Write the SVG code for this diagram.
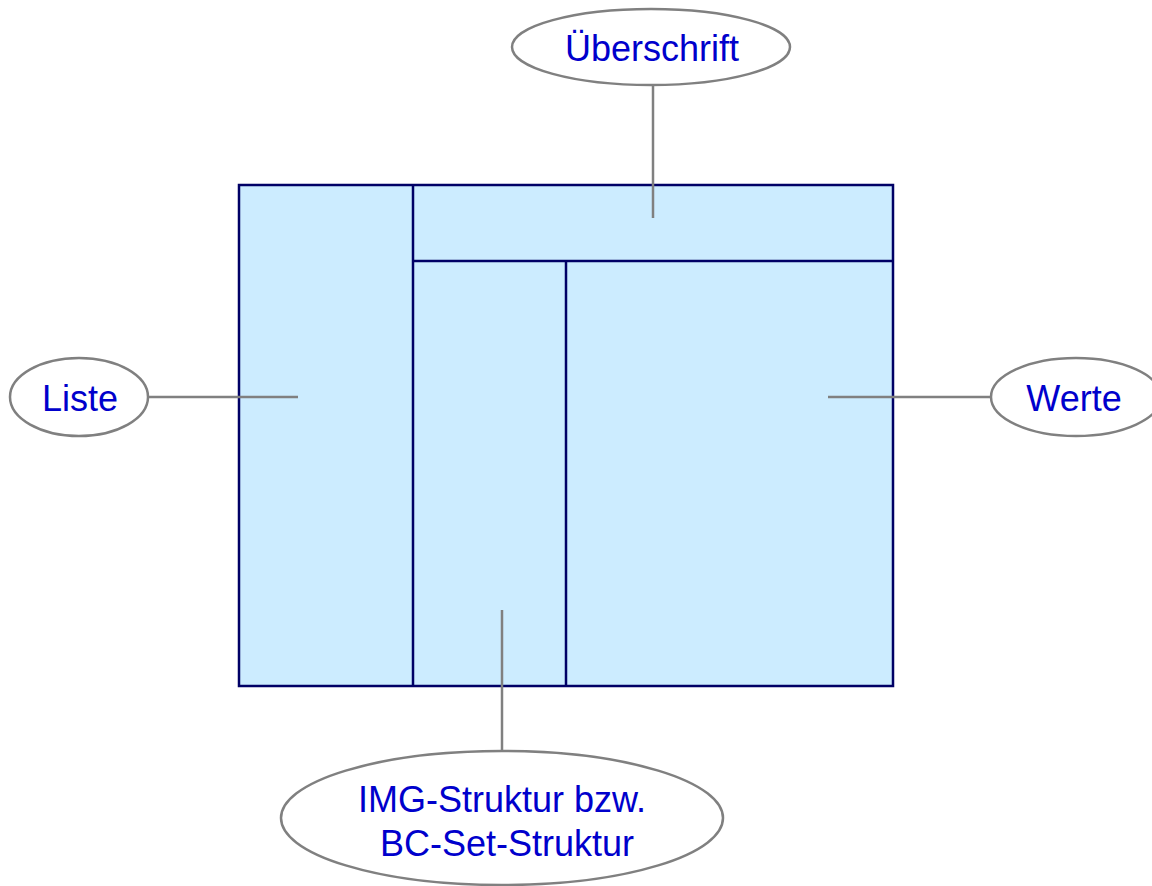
<svg xmlns="http://www.w3.org/2000/svg" width="1152" height="886" viewBox="0 0 1152 886">
<style>
.pane{fill:#CCECFF;stroke:#000066;stroke-width:2.5}
.div{stroke:#000066;stroke-width:2.5;fill:none}
.con{stroke:#808080;stroke-width:2.5;fill:none}
.ell{fill:#FFFFFF;stroke:#808080;stroke-width:2.5}
.lbl{font-family:"Liberation Sans",Arial,sans-serif;font-size:36px;fill:#0000CC;text-anchor:middle}
</style>
<rect width="1152" height="886" fill="#FFFFFF"/>
<g id="frame">
<rect class="pane" x="239" y="185" width="654" height="501"/>
<line class="div" x1="413" y1="185" x2="413" y2="686"/>
<line class="div" x1="413" y1="261" x2="893" y2="261"/>
<line class="div" x1="566" y1="261" x2="566" y2="686"/>
</g>
<g id="connectors">
<line class="con" x1="653" y1="86" x2="653" y2="218"/>
<line class="con" x1="148" y1="397" x2="298" y2="397"/>
<line class="con" x1="828" y1="397" x2="991" y2="397"/>
<line class="con" x1="502" y1="610" x2="502" y2="751"/>
</g>
<g id="ueberschrift">
<ellipse class="ell" cx="651" cy="47" rx="139" ry="38"/>
<text class="lbl" x="652" y="61">Überschrift</text>
</g>
<g id="liste">
<ellipse class="ell" cx="79" cy="397" rx="69" ry="39"/>
<text class="lbl" x="80" y="411">Liste</text>
</g>
<g id="werte">
<ellipse class="ell" cx="1076" cy="397" rx="85" ry="39"/>
<text class="lbl" x="1074" y="411">Werte</text>
</g>
<g id="struktur">
<ellipse class="ell" cx="502" cy="818" rx="221" ry="67"/>
<text class="lbl" x="502" y="812">IMG-Struktur bzw.</text>
<text class="lbl" x="507" y="856">BC-Set-Struktur</text>
</g>
</svg>
